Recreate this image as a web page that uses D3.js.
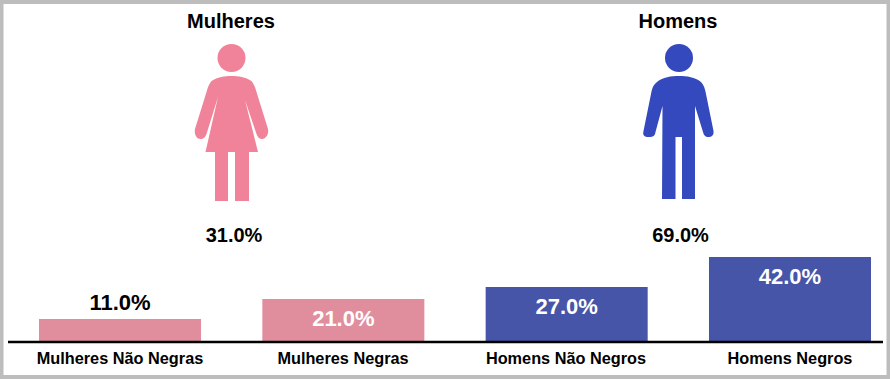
<!DOCTYPE html>
<html>
<head>
<meta charset="utf-8">
<script src="https://cdn.jsdelivr.net/npm/d3@7"></script>
<style>
  html, body { margin: 0; padding: 0; background: #fff; }
  svg { display: block; font-family: "Liberation Sans", Arial, sans-serif; font-weight: bold; }
</style>
</head>
<body>
<div id="chart-container"></div>
<script>
// Data
const categories = ["Mulheres Não Negras", "Mulheres Negras", "Homens Não Negros", "Homens Negros"];
const values = [11, 21, 27, 42];
const genders = ["Mulheres", "Homens"];
const genderValues = [31, 69];

const barColors = ["#e08e9e", "#e08e9e", "#4655a8", "#4655a8"];
const labelColors = ["#000", "#fff", "#fff", "#fff"];
const iconColors = ["#f08399", "#3449bd"];

// Pictograms, drawn around the head centre of each figure
const iconPaths = [
    "M0,18 C-7,18 -14,19 -20,23 C-23,27 -24,30 -25,34 L-36.5,71 C-37.5,76 -35,81 -31,81 C-28,81 -26,79 -25,76 L-13.5,39 L-26,94 L-16.5,94 L-16.5,143 L-3.5,143 L-3.5,94 L3.5,94 L3.5,143 L17.5,143 L17.5,94 L26.5,94 L13.5,42 L25,76 C26,79 28,81 30.5,81 C34.5,81 37.5,76 36.5,71 L25,34 C24,30 23,27 20,23 C14,19 7,18 0,18 Z",
    "M0,18 C-8,18 -16,19 -22,24 C-26,27 -27,31 -28,36 L-35.5,73 C-36.5,77 -35,79 -30,79 C-26,79 -24,78 -23.5,74 L-16.5,48 L-17,141 L-3.5,141 L-3.5,79 L3,79 L3,141 L16,141 L16,48 L24,74 C25,78 27,79 29,79 C33,79 35,77 34.5,73 L27,36 C26,31 25,27 22,24 C16,19 8,18 0,18 Z"
];

const width = 890;
const height = 379;
const baseline = 341;

const svg = d3.select("#chart-container")
    .append("svg")
    .attr("width", width)
    .attr("height", height);

// Frame
svg.append("rect")
    .attr("x", 1.5)
    .attr("y", 2)
    .attr("width", width - 3)
    .attr("height", height - 4)
    .attr("fill", "#fff")
    .attr("stroke", "#bdbdbd")
    .attr("stroke-width", 4);

const xScale = d3.scaleBand()
    .domain(categories)
    .range([39, 871])
    .paddingInner(0.2745)
    .paddingOuter(0);

const yScale = d3.scaleLinear()
    .domain([0, 42])
    .range([baseline, 257]);

// Bars
svg.selectAll(".bar")
    .data(values)
    .enter()
    .append("rect")
    .attr("class", "bar")
    .attr("x", (d, i) => xScale(categories[i]))
    .attr("y", d => yScale(d))
    .attr("width", xScale.bandwidth())
    .attr("height", d => baseline - yScale(d))
    .attr("fill", (d, i) => barColors[i]);

// Bar labels, the first one sits above its bar
svg.selectAll(".bar-label")
    .data(values)
    .enter()
    .append("text")
    .attr("class", "bar-label")
    .attr("x", (d, i) => xScale(categories[i]) + xScale.bandwidth() / 2)
    .attr("y", (d, i) => i === 0 ? yScale(d) - 9 : yScale(d) + 27)
    .attr("text-anchor", "middle")
    .attr("font-size", 22)
    .attr("fill", (d, i) => labelColors[i])
    .text(d => d.toFixed(1) + "%");

// Baseline and category labels
svg.append("line")
    .attr("x1", 8)
    .attr("x2", 883)
    .attr("y1", 342)
    .attr("y2", 342)
    .attr("stroke", "#000")
    .attr("stroke-width", 2.5);

const labelCenters = [120, 343, 566, 790];
svg.selectAll(".cat-label")
    .data(categories)
    .enter()
    .append("text")
    .attr("class", "cat-label")
    .attr("x", (d, i) => labelCenters[i])
    .attr("y", 364)
    .attr("text-anchor", "middle")
    .attr("font-size", 16.3)
    .attr("fill", "#000")
    .text(d => d);

// Gender figures
const figureCenters = [231.5, 679];
const titleCenters = [231, 678];
const figures = svg.selectAll(".figure")
    .data(genders)
    .enter()
    .append("g")
    .attr("class", "figure");

figures.append("text")
    .attr("x", (d, i) => titleCenters[i])
    .attr("y", 28)
    .attr("text-anchor", "middle")
    .attr("font-size", 20)
    .text(d => d);

figures.append("circle")
    .attr("cx", (d, i) => figureCenters[i])
    .attr("cy", 58)
    .attr("r", 14)
    .attr("fill", (d, i) => iconColors[i]);

figures.append("path")
    .attr("transform", (d, i) => `translate(${figureCenters[i]},58)`)
    .attr("d", (d, i) => iconPaths[i])
    .attr("fill", (d, i) => iconColors[i]);

figures.append("text")
    .attr("x", (d, i) => [234, 680.5][i])
    .attr("y", 242)
    .attr("text-anchor", "middle")
    .attr("font-size", 20)
    .text((d, i) => genderValues[i].toFixed(1) + "%");
</script>
</body>
</html>
